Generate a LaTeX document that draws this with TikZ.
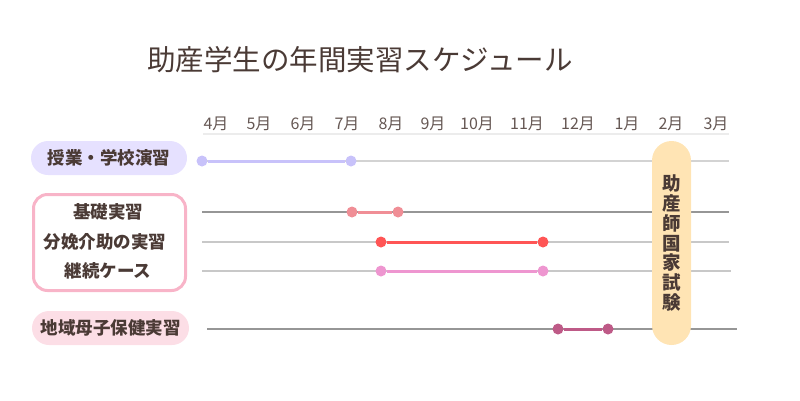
\documentclass[tikz,border=0pt]{standalone}
\usepackage{fontspec}
\usepackage{xcolor}
\usepackage{tikz}
\newfontfamily\jp{Noto Sans CJK JP}
\definecolor{jbrown}{RGB}{74, 58, 53}
\definecolor{jgrid}{RGB}{236, 236, 236}
\definecolor{jline}{RGB}{200, 200, 200}
\definecolor{jdark}{RGB}{150, 150, 150}
\definecolor{jlav}{RGB}{200, 194, 250}
\definecolor{jlavbg}{RGB}{230, 225, 255}
\definecolor{jsalmon}{RGB}{240, 142, 150}
\definecolor{jred}{RGB}{255, 85, 85}
\definecolor{jpink}{RGB}{238, 150, 208}
\definecolor{jmauve}{RGB}{190, 90, 135}
\definecolor{jpinkbd}{RGB}{248, 180, 200}
\definecolor{jpinkbg}{RGB}{252, 222, 230}
\definecolor{jpeach}{RGB}{255, 228, 180}

\begin{document}
\begin{tikzpicture}[x=1pt, y=-1pt,
  month/.style={font=\jp\fontsize{16}{16}\selectfont, text=jbrown!85},
  rowline/.style={line width=1.4pt},
  dot/.style={circle, inner sep=0pt, minimum size=11pt},
  bar/.style={line width=3pt},
  tag/.style={font=\jp\bfseries\fontsize{17.5}{17.5}\selectfont, text=jbrown}
]
\useasboundingbox (0,0) rectangle (800,400);

% Title
\node[font=\jp\fontsize{28.5}{28.5}\selectfont, text=jbrown] (title) at (360,60) {助産学生の年間実習スケジュール};

% Months
\foreach \m/\x in {4/216, 5/259, 6/303, 7/347, 8/391, 9/433, 10/477, 11/527, 12/578, 1/627, 2/671, 3/716} {
    \node[month] (m\m) at (\x,124) {\m 月};
}
\coordinate (axl) at (203,134);
\coordinate (axr) at (729,134);
\draw[jgrid, line width=1.5pt] (axl) -- (axr);

% Row lines
\coordinate (l1) at (202,161); \coordinate (r1) at (729,161);
\coordinate (l2) at (202,212); \coordinate (r2) at (729,212);
\coordinate (l3) at (202,242); \coordinate (r3) at (729,242);
\coordinate (l4) at (202,271); \coordinate (r4) at (731,271);
\coordinate (l5) at (207,329); \coordinate (r5) at (737,329);
\draw[rowline, jline!80] (l1) -- (r1);
\draw[rowline, jdark] (l2) -- (r2);
\draw[rowline, jline] (l3) -- (r3);
\draw[rowline, jline] (l4) -- (r4);
\draw[rowline, jdark] (l5) -- (r5);

% Bars
\node[dot, fill=jlav] (a1) at (202,161) {};
\node[dot, fill=jlav] (a2) at (351,161) {};
\draw[bar, jlav] (a1) -- (a2);
\node[dot, fill=jsalmon] (b1) at (352,212) {};
\node[dot, fill=jsalmon] (b2) at (398,212) {};
\draw[bar, jsalmon] (b1) -- (b2);
\node[dot, fill=jred] (c1) at (381,242) {};
\node[dot, fill=jred] (c2) at (543,242) {};
\draw[bar, jred] (c1) -- (c2);
\node[dot, fill=jpink] (d1) at (381,271) {};
\node[dot, fill=jpink] (d2) at (543,271) {};
\draw[bar, jpink] (d1) -- (d2);
\node[dot, fill=jmauve] (e1) at (558,329) {};
\node[dot, fill=jmauve] (e2) at (608,329) {};
\draw[bar, jmauve] (e1) -- (e2);

% Exam
\node[fill=jpeach, rounded corners=19.5pt, minimum width=39pt, minimum height=204pt,
      align=center, inner sep=0pt, text=jbrown,
      font=\jp\bfseries\fontsize{18.5}{19.8}\selectfont] (exam) at (671.5,243)
      {助\\産\\師\\国\\家\\試\\験};

% Left labels
\node[tag, fill=jlavbg, rounded corners=17pt, minimum width=156pt, minimum height=34pt] (lesson) at (109,158) {授業・学校演習};
\node[draw=jpinkbd, line width=3pt, rounded corners=14pt, minimum width=152pt, minimum height=96pt] (care) at (109.5,242.5) {};
\node[tag] (basic) at (108,212) {基礎実習};
\node[tag] (birth) at (105,242) {分娩介助の実習};
\node[tag] (cont) at (108,271) {継続ケース};
\node[tag, fill=jpinkbg, rounded corners=17pt, minimum width=157pt, minimum height=34pt] (local) at (110.5,328) {地域母子保健実習};
\end{tikzpicture}
\end{document}
